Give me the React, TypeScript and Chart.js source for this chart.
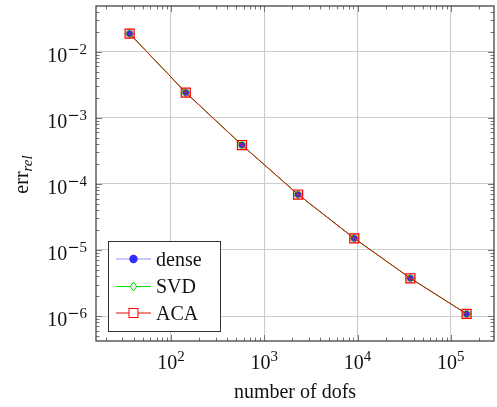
import React, { useEffect, useRef } from 'react';
import { Chart, registerables } from 'chart.js';

Chart.register(...registerables);

// ---- data ----
const dofs = [36, 144, 576, 2304, 9216, 36864, 147456];
const errDense = [1.87e-2, 2.4e-3, 3.87e-4, 6.9e-5, 1.5e-5, 3.73e-6, 1.08e-6];
const errSVD = [1.87e-2, 2.4e-3, 3.87e-4, 6.9e-5, 1.5e-5, 3.73e-6, 1.08e-6];
const errACA = [1.87e-2, 2.4e-3, 3.87e-4, 6.9e-5, 1.5e-5, 3.73e-6, 1.08e-6];
const seriesNames = ['dense', 'SVD', 'ACA'];
const xTickExponents = [2, 3, 4, 5];
const yTickExponents = [-6, -5, -4, -3, -2];
const xTitle = 'number of dofs';
const yTitleMain = 'err';
const yTitleSub = 'rel';

const X_MIN = 15.7;
const X_MAX = 2.9e5;
const Y_MIN = 4.2e-7;
const Y_MAX = 0.049;

const FONT = '"Liberation Serif", "DejaVu Serif", serif';
const MINUS_FONT = '"DejaVu Serif", serif';

function minorValues(min: number, max: number): number[] {
  const out: number[] = [];
  for (let d = Math.floor(Math.log10(min)); d <= Math.ceil(Math.log10(max)); d++) {
    for (let k = 2; k <= 9; k++) {
      const v = k * Math.pow(10, d);
      if (v > min && v < max) out.push(v);
    }
  }
  return out;
}

function expWidth(ctx: CanvasRenderingContext2D, e: number): number {
  let w = 0;
  if (e < 0) {
    ctx.font = `14.5px ${MINUS_FONT}`;
    w += ctx.measureText('\u2212').width;
  }
  ctx.font = `15px ${FONT}`;
  w += ctx.measureText(String(Math.abs(e))).width;
  return w;
}
function drawExp(ctx: CanvasRenderingContext2D, e: number, x: number, y: number) {
  let cx = x;
  if (e < 0) {
    ctx.font = `14.5px ${MINUS_FONT}`;
    ctx.fillText('\u2212', cx, y);
    cx += ctx.measureText('\u2212').width;
  }
  ctx.font = `15px ${FONT}`;
  ctx.fillText(String(Math.abs(e)), cx, y);
}

const decorPlugin = {
  id: 'decor',
  afterDraw(chart: any) {
    const ctx = chart.ctx as CanvasRenderingContext2D;
    const { left, right, top, bottom } = chart.chartArea;
    const xs = chart.scales.x;
    const ys = chart.scales.y;
    ctx.save();

    // ticks (inward, all sides)
    ctx.strokeStyle = '#777';
    ctx.lineWidth = 1;
    const majorLen = 6;
    const minorLen = 3.5;
    const drawXTick = (v: number, len: number) => {
      const px = Math.round(xs.getPixelForValue(v)) + 0.5;
      ctx.beginPath();
      ctx.moveTo(px, bottom);
      ctx.lineTo(px, bottom - len);
      ctx.moveTo(px, top);
      ctx.lineTo(px, top + len);
      ctx.stroke();
    };
    const drawYTick = (v: number, len: number) => {
      const py = Math.round(ys.getPixelForValue(v)) + 0.5;
      ctx.beginPath();
      ctx.moveTo(left, py);
      ctx.lineTo(left + len, py);
      ctx.moveTo(right, py);
      ctx.lineTo(right - len, py);
      ctx.stroke();
    };
    minorValues(X_MIN, X_MAX).forEach((v) => drawXTick(v, minorLen));
    minorValues(Y_MIN, Y_MAX).forEach((v) => drawYTick(v, minorLen));
    xTickExponents.forEach((e) => drawXTick(Math.pow(10, e), majorLen));
    yTickExponents.forEach((e) => drawYTick(Math.pow(10, e), majorLen));

    // frame
    ctx.strokeStyle = '#444';
    ctx.lineWidth = 1.3;
    ctx.strokeRect(left, top, right - left, bottom - top);

    // tick labels
    ctx.fillStyle = '#111';
    ctx.textBaseline = 'alphabetic';
    ctx.textAlign = 'left';
    const mainFont = `20px ${FONT}`;
    xTickExponents.forEach((e) => {
      const px = xs.getPixelForValue(Math.pow(10, e));
      ctx.font = mainFont;
      const wm = ctx.measureText('10').width;
      const wsup = expWidth(ctx, e);
      const start = px - (wm + wsup) / 2;
      ctx.font = mainFont;
      ctx.fillText('10', start, bottom + 28);
      drawExp(ctx, e, start + wm, bottom + 19.5);
    });
    yTickExponents.forEach((e) => {
      const py = ys.getPixelForValue(Math.pow(10, e));
      ctx.font = mainFont;
      const wm = ctx.measureText('10').width;
      const wsup = expWidth(ctx, e);
      const rightEdge = left - 9;
      ctx.font = mainFont;
      ctx.fillText('10', rightEdge - wsup - wm, py + 10);
      drawExp(ctx, e, rightEdge - wsup, py + 2);
    });

    // x title
    ctx.font = mainFont;
    ctx.textAlign = 'center';
    ctx.fillText(xTitle, (left + right) / 2, 398);

    // y title (rotated)
    ctx.save();
    ctx.font = mainFont;
    const wErr = ctx.measureText(yTitleMain).width;
    ctx.font = `italic 15px ${FONT}`;
    const wRel = ctx.measureText(yTitleSub).width;
    const total = wErr + wRel;
    ctx.translate(28, (top + bottom) / 2 + 1);
    ctx.rotate(-Math.PI / 2);
    ctx.textAlign = 'left';
    ctx.font = mainFont;
    ctx.fillText(yTitleMain, -total / 2, 0);
    ctx.font = `italic 15px ${FONT}`;
    ctx.fillText(yTitleSub, -total / 2 + wErr, 4);
    ctx.restore();

    // legend
    const lx = 108, ly = 241, lw = 112, lh = 90;
    ctx.fillStyle = '#fff';
    ctx.fillRect(lx, ly, lw, lh);
    ctx.strokeStyle = '#333';
    ctx.lineWidth = 1;
    ctx.strokeRect(lx + 0.5, ly + 0.5, lw, lh);
    const rowsY = [259, 286.5, 313];
    chart.data.datasets.forEach((ds: any, i: number) => {
      const y = rowsY[i];
      ctx.strokeStyle = ds.borderColor;
      ctx.lineWidth = 1.2;
      ctx.beginPath();
      ctx.moveTo(116, y);
      ctx.lineTo(151, y);
      ctx.stroke();
      const mx = 133.5;
      ctx.lineWidth = 1;
      ctx.strokeStyle = ds.pointBorderColor;
      if (ds.pointStyle === 'circle') {
        ctx.fillStyle = ds.pointBackgroundColor;
        ctx.beginPath();
        ctx.arc(mx, y, 4.2, 0, Math.PI * 2);
        ctx.fill();
      } else if (ds.pointStyle === 'rectRot') {
        ctx.fillStyle = '#fff';
        ctx.beginPath();
        ctx.moveTo(mx, y - 4.5);
        ctx.lineTo(mx + 3.2, y);
        ctx.lineTo(mx, y + 4.5);
        ctx.lineTo(mx - 3.2, y);
        ctx.closePath();
        ctx.fill();
        ctx.stroke();
      } else {
        ctx.fillStyle = '#fff';
        ctx.fillRect(mx - 4.5, y - 4.5, 9, 9);
        ctx.strokeRect(mx - 4.5, y - 4.5, 9, 9);
      }
      ctx.fillStyle = '#111';
      ctx.font = mainFont;
      ctx.textAlign = 'left';
      ctx.textBaseline = 'alphabetic';
      ctx.fillText(seriesNames[i], 156, y + 6.5);
    });

    ctx.restore();
  },
};

export default function App() {
  const ref = useRef<HTMLCanvasElement | null>(null);
  useEffect(() => {
    if (!ref.current) return;
    const mk = (arr: number[]) => dofs.map((x, i) => ({ x, y: arr[i] }));
    const chart = new Chart(ref.current, {
      type: 'line',
      data: {
        datasets: [
          {
            label: seriesNames[0],
            data: mk(errDense),
            borderColor: 'rgba(60,60,255,0.55)',
            borderWidth: 1,
            pointStyle: 'circle',
            pointRadius: 3.3,
            pointBackgroundColor: 'rgb(45,45,255)',
            pointBorderColor: 'rgb(45,45,255)',
            pointBorderWidth: 0,
            order: 2,
          },
          {
            label: seriesNames[1],
            data: mk(errSVD),
            borderColor: 'rgb(0,230,0)',
            borderWidth: 1,
            pointStyle: 'rectRot',
            pointRadius: 4.5,
            pointBackgroundColor: 'rgba(0,0,0,0)',
            pointBorderColor: 'rgb(0,220,0)',
            pointBorderWidth: 1,
            order: 1,
          },
          {
            label: seriesNames[2],
            data: mk(errACA),
            borderColor: 'rgb(220,20,0)',
            borderWidth: 1,
            pointStyle: 'rect',
            pointRadius: 6.4,
            pointBackgroundColor: 'rgba(255,0,0,0.12)',
            pointBorderColor: 'rgb(255,0,0)',
            pointBorderWidth: 1.2,
            order: 0,
          },
        ] as any,
      },
      options: {
        animation: false,
        responsive: false,
        devicePixelRatio: 1,
        layout: { autoPadding: false, padding: { left: 96, top: 6, right: 3, bottom: 66 } },
        plugins: { legend: { display: false }, tooltip: { enabled: false } },
        scales: {
          x: {
            type: 'logarithmic',
            min: X_MIN,
            max: X_MAX,
            ticks: { display: false },
            grid: { color: '#cccccc', lineWidth: 1.1, drawTicks: false },
            border: { display: false },
            afterBuildTicks: (s: any) => {
              s.ticks = xTickExponents.map((e) => ({ value: Math.pow(10, e) }));
            },
          },
          y: {
            type: 'logarithmic',
            min: Y_MIN,
            max: Y_MAX,
            ticks: { display: false },
            grid: { color: '#cccccc', lineWidth: 1.1, drawTicks: false },
            border: { display: false },
            afterBuildTicks: (s: any) => {
              s.ticks = yTickExponents.map((e) => ({ value: Math.pow(10, e) }));
            },
          },
        },
      } as any,
      plugins: [decorPlugin],
    });
    return () => chart.destroy();
  }, []);
  return (
    <div style={{ position: 'fixed', left: 0, top: 0, width: 497, height: 407, background: '#fff' }}>
      <canvas ref={ref} width={497} height={407} style={{ width: 497, height: 407, display: 'block' }} />
    </div>
  );
}
